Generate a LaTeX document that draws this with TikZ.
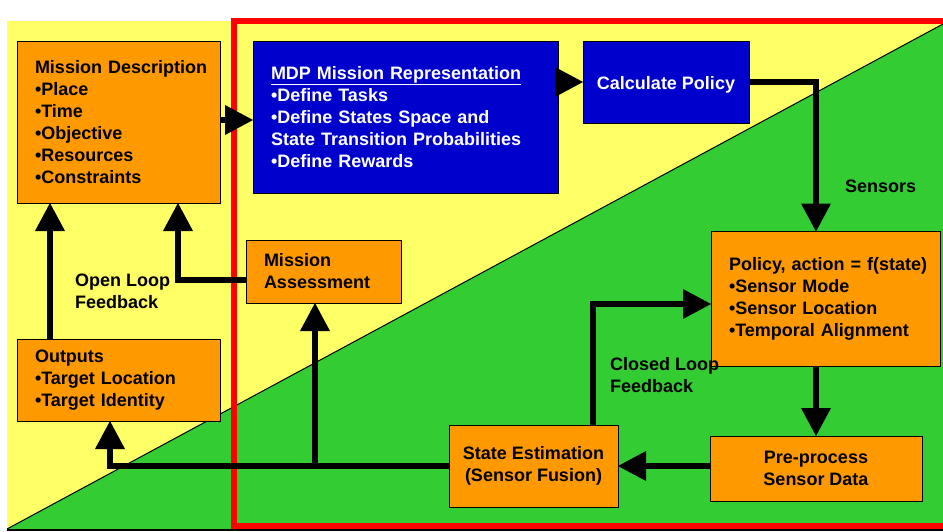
\documentclass[tikz,border=0pt]{standalone}
\usepackage{fontspec}
\setmainfont{Liberation Sans}
\usetikzlibrary{arrows.meta}
\definecolor{bgyellow}{HTML}{FFFF66}
\definecolor{bggreen}{HTML}{33CC33}
\definecolor{boxorange}{HTML}{FF9900}
\definecolor{boxblue}{HTML}{0000CC}
\definecolor{framered}{HTML}{FF0000}
\begin{document}
\begin{tikzpicture}[x=1pt,y=-1pt,
  font=\bfseries\fontsize{18}{22}\selectfont,
  basebox/.style={draw=black,line width=1pt,inner ysep=0pt,outer sep=0pt},
  obox/.style={basebox,fill=boxorange,text=black},
  bbox/.style={basebox,fill=boxblue,text=white},
  leftbox/.style={inner xsep=18pt,align=left},
  midbox/.style={inner xsep=4pt,align=center},
  lbl/.style={inner sep=0pt,align=left,anchor=west},
  wire/.style={line width=6pt,line join=miter},
  conn/.style={wire,-{Triangle[width=30pt,length=28pt,line width=0pt]}}]
\clip (0,0) rectangle (943,531);
\fill[white] (0,0) rectangle (943,531);
\fill[bgyellow] (7,21) rectangle (943,529);
\fill[bggreen] (7,529) -- (943,24) -- (943,529) -- cycle;
\draw[black,line width=1pt] (7,529) -- (943,24);
\fill[black] (7,529) rectangle (943,531);
\draw[framered,line width=6pt] (234,21) rectangle (950,526);
% nodes
\node[obox,leftbox,minimum width=203pt,minimum height=162pt,text width=167pt] (md) at (118.5,122)
  {\mbox{Mission Description}\\\textbullet Place\\\textbullet Time\\\textbullet Objective\\\textbullet Resources\\\textbullet Constraints};
\node[bbox,leftbox,minimum width=305pt,minimum height=152pt,text width=269pt] (mdp) at (405.5,117)
  {\underline{MDP Mission Representation}\\\textbullet Define Tasks\\\textbullet Define States Space and\\State Transition Probabilities\\\textbullet Define Rewards};
\node[bbox,midbox,minimum width=166pt,minimum height=82pt,text height=19pt,text depth=4pt] (calc) at (666,82) {Calculate Policy};
\node[obox,leftbox,minimum width=229pt,minimum height=135pt,text width=193pt] (policy) at (825.5,299)
  {\mbox{Policy, action = f(state)}\\\textbullet Sensor Mode\\\textbullet Sensor Location\\\mbox{\textbullet Temporal Alignment}};
\node[obox,midbox,minimum width=212pt,minimum height=65pt] (pre) at (816,468.5) {Pre-process\\Sensor Data};
\node[obox,midbox,minimum width=169pt,minimum height=82pt] (state) at (533.5,466) {State Estimation\\(Sensor Fusion)};
\node[obox,leftbox,minimum width=203pt,minimum height=82pt,text width=167pt] (out) at (118.5,380)
  {Outputs\\\textbullet Target Location\\\textbullet Target Identity};
\node[obox,leftbox,minimum width=155pt,minimum height=63pt,text width=119pt] (assess) at (323.5,271.5)
  {Mission\\Assessment};
% labels
\node[lbl] (sensors) at (845,186) {Sensors};
\node[lbl] (openlbl) at (75,291.5) {Open Loop\\Feedback};
\node[lbl] (closedlbl) at (610,375) {Closed Loop\\Feedback};
% helper coordinates
\coordinate (cpx) at (816,82);
\coordinate (cl) at (593,304);
\coordinate (ob) at (110,466);
\coordinate (ab) at (315,466);
\coordinate (ol) at (50,339);
\coordinate (af) at (178,280);
% connectors
\draw[conn] (md.east |- 0,120) -- (mdp.west |- 0,120);
\draw[conn] (mdp.east |- calc.west) -- (calc.west);
\draw[conn] (calc.east) -- (cpx) -- (cpx |- policy.north);
\draw[conn] (pre.north |- policy.south) -- (pre.north);
\draw[conn] (pre.west |- state.east) -- (state.east);
\draw[conn] (state.north -| cl) -- (cl) -- (cl -| policy.west);
\draw[conn] (state.west) -- (ob) -- (ob |- out.south);
\draw[conn] (ab) -- (ab |- assess.south);
\draw[conn] (ol) -- (ol |- md.south);
\draw[conn] (af -| assess.west) -- (af) -- (af |- md.south);
\end{tikzpicture}
\end{document}
